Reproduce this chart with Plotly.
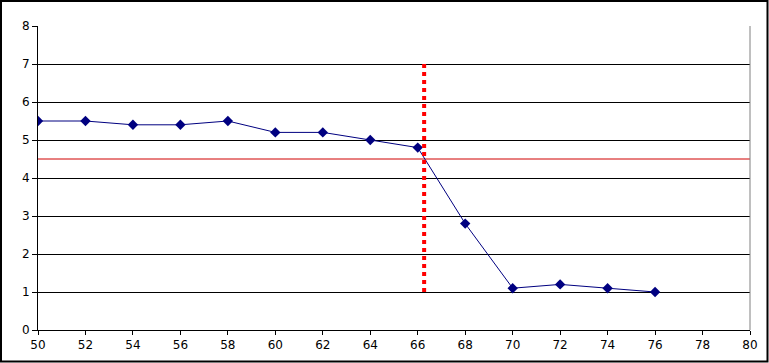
import plotly.graph_objects as go

# Data
x_vals = [50, 52, 54, 56, 58, 60, 62, 64, 66, 68, 70, 72, 74, 76]
y_vals = [5.5, 5.5, 5.4, 5.4, 5.5, 5.2, 5.2, 5.0, 4.8, 2.8, 1.1, 1.2, 1.1, 1.0]
cutoff_x = [66.27, 66.27]
cutoff_y = [1, 7]
threshold_x = [50, 80]
threshold_y = [4.5, 4.5]
x_ticks = list(range(50, 81, 2))
y_ticks = list(range(0, 9, 1))

W, H = 769, 363
ML, MR, MT, MB = 38, 19, 26, 33

fig = go.Figure()
fig.add_trace(go.Scatter(x=threshold_x, y=threshold_y, mode="lines",
                         line=dict(color="#d00000", width=1), hoverinfo="skip"))
fig.add_trace(go.Scatter(x=x_vals, y=y_vals, mode="lines+markers",
                         line=dict(color="#000080", width=1),
                         marker=dict(symbol="diamond", size=8, color="#000080")))
fig.add_trace(go.Scatter(x=cutoff_x, y=cutoff_y, mode="lines",
                         line=dict(color="#ff0000", width=4, dash="dot"), hoverinfo="skip"))

pw = W - ML - MR
ph = H - MT - MB


def px_x(p):
    return (p - ML) / pw


def px_y(p):
    return (H - MB - p) / ph


# outer frame around the whole image
fig.add_shape(type="rect", xref="paper", yref="paper",
              x0=px_x(1), x1=px_x(767.5), y0=px_y(361.5), y1=px_y(1),
              line=dict(color="black", width=2), fillcolor="rgba(0,0,0,0)", layer="above")
# right plot border in gray
fig.add_shape(type="line", xref="paper", yref="paper", x0=1, x1=1, y0=0, y1=1,
              line=dict(color="#808080", width=1))

fig.update_layout(
    width=W, height=H,
    margin=dict(l=ML, r=MR, t=MT, b=MB, pad=0),
    paper_bgcolor="white", plot_bgcolor="white",
    showlegend=False,
    font=dict(family="DejaVu Sans", size=12, color="black"),
    xaxis=dict(range=[50, 80], tickvals=x_ticks, showgrid=False, zeroline=False,
               showline=True, linecolor="black", linewidth=1,
               ticks="outside", ticklen=4, tickcolor="black", tickfont=dict(size=12)),
    yaxis=dict(range=[0, 8], tickvals=y_ticks, showgrid=True, gridcolor="black", gridwidth=1,
               zeroline=False, showline=True, linecolor="black", linewidth=1,
               ticks="outside", ticklen=5, tickcolor="black", tickfont=dict(size=12)),
)

fig.write_html("out.html", config={"displayModeBar": False},
               post_script="document.body.style.margin='0';document.body.style.padding='0';document.body.style.overflow='hidden';")
